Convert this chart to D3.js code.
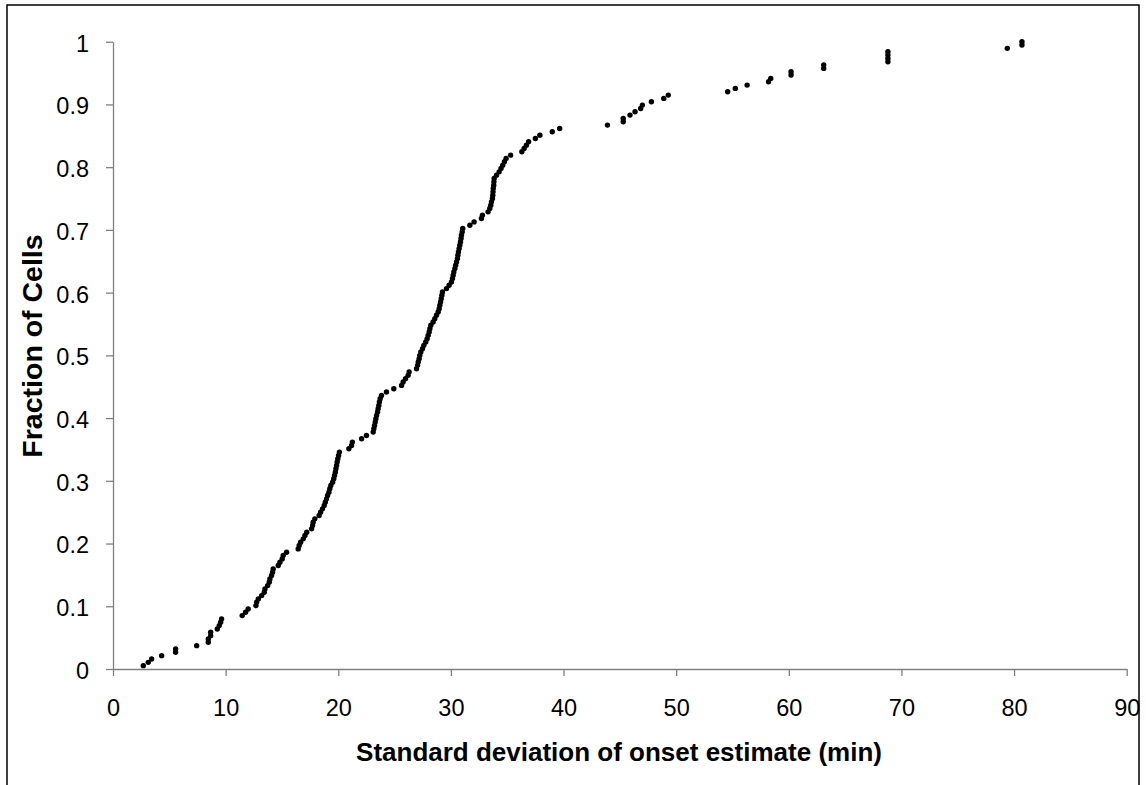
<!DOCTYPE html>
<html>
<head>
<meta charset="utf-8">
<script src="https://cdn.jsdelivr.net/npm/d3@7"></script>
<style>
    body { margin: 0; background: #fff; }
    svg { display: block; font-family: "Liberation Sans", Arial, sans-serif; }
</style>
</head>
<body>
<div id="chart"></div>
<script>
// SD of onset estimate for each cell (min), sorted
const onsetSd = [
    2.69, 3.13, 3.43, 4.32, 5.56, 5.56, 7.43, 8.46, 8.46, 8.67,
    8.67, 9.26, 9.43, 9.56, 9.64, 11.47, 11.77, 12.0, 12.69, 12.75,
    12.9, 13.2, 13.43, 13.49, 13.73, 13.87, 13.93, 14.08, 14.17, 14.22,
    14.67, 14.82, 15.02, 15.11, 15.41, 16.44, 16.53, 16.66, 16.89, 17.04,
    17.2, 17.63, 17.72, 17.77, 17.92, 18.3, 18.43, 18.6, 18.75, 18.85,
    18.96, 19.05, 19.17, 19.25, 19.34, 19.5, 19.6, 19.67, 19.74, 19.79,
    19.85, 19.9, 19.96, 20.03, 20.1, 20.94, 21.18, 21.25, 22.07, 22.5,
    23.1, 23.16, 23.22, 23.28, 23.34, 23.4, 23.49, 23.54, 23.6, 23.65,
    23.72, 23.84, 24.28, 24.93, 25.62, 25.76, 25.97, 26.2, 26.29, 26.95,
    27.04, 27.1, 27.18, 27.24, 27.33, 27.48, 27.6, 27.77, 27.89, 27.98,
    28.07, 28.13, 28.22, 28.42, 28.57, 28.72, 28.87, 28.96, 29.02, 29.08,
    29.14, 29.2, 29.25, 29.61, 29.84, 30.05, 30.14, 30.2, 30.26, 30.35,
    30.42, 30.5, 30.58, 30.62, 30.67, 30.73, 30.79, 30.85, 30.9, 30.94,
    31.0, 31.05, 31.68, 32.06, 32.71, 32.8, 33.3, 33.45, 33.54, 33.6,
    33.69, 33.72, 33.74, 33.76, 33.8, 33.82, 33.84, 34.05, 34.28, 34.45,
    34.6, 34.75, 34.9, 35.3, 36.3, 36.5, 36.7, 36.9, 37.5, 37.9,
    39.0, 39.66, 43.9, 45.3, 45.3, 45.9, 46.35, 46.85, 47.0, 47.8,
    48.9, 49.3, 54.57, 55.25, 56.3, 58.2, 58.4, 60.2, 60.2, 63.1,
    63.1, 68.8, 68.8, 68.8, 68.8, 79.4, 80.7, 80.7
];

const xTicks = [0, 10, 20, 30, 40, 50, 60, 70, 80, 90];
const yTicks = [0, 0.1, 0.2, 0.3, 0.4, 0.5, 0.6, 0.7, 0.8, 0.9, 1];
const xTitle = 'Standard deviation of onset estimate (min)';
const yTitle = 'Fraction of Cells';

const width = 1146;
const height = 785;
const plot = { left: 113, right: 1126.7, top: 41.7, bottom: 669 };

// cumulative fraction of cells for each sorted value
const points = onsetSd.map((v, i) => ({ sd: v, frac: (i + 1) / onsetSd.length }));

const svg = d3.select('#chart')
    .append('svg')
    .attr('width', width)
    .attr('height', height);

svg.append('rect')
    .attr('width', width)
    .attr('height', height)
    .attr('fill', '#fff');

// outer frame, bottom edge runs off the picture
svg.append('rect')
    .attr('x', 7)
    .attr('y', 5)
    .attr('width', 1132)
    .attr('height', 820)
    .attr('fill', 'none')
    .attr('stroke', '#000')
    .attr('stroke-width', 1.5);

const x = d3.scaleLinear()
    .domain([0, 90])
    .range([plot.left, plot.right]);

const y = d3.scaleLinear()
    .domain([0, 1])
    .range([plot.bottom, plot.top]);

const xAxis = d3.axisBottom(x)
    .tickValues(xTicks)
    .tickFormat(d => String(d))
    .tickSize(7)
    .tickSizeOuter(0)
    .tickPadding(23);

const yAxis = d3.axisLeft(y)
    .tickValues(yTicks)
    .tickFormat(d => String(d))
    .tickSize(7)
    .tickSizeOuter(0)
    .tickPadding(17);

const xAxisG = svg.append('g')
    .attr('transform', `translate(0,${plot.bottom})`)
    .call(xAxis);

const yAxisG = svg.append('g')
    .attr('transform', `translate(${plot.left},0)`)
    .call(yAxis);

[xAxisG, yAxisG].forEach(g => {
    g.selectAll('path, line')
        .attr('stroke', '#808080')
        .attr('stroke-width', 1.3);
    g.selectAll('text')
        .attr('fill', '#000')
        .style('font-size', '23.5px')
        .style('font-family', '"Liberation Sans", Arial, sans-serif');
});
yAxisG.selectAll('text').attr('dy', '0.4em');

// data points
svg.append('g')
    .selectAll('circle')
    .data(points)
    .join('circle')
    .attr('cx', d => x(d.sd))
    .attr('cy', d => y(d.frac))
    .attr('r', 2.7)
    .attr('fill', '#000');

// axis titles
svg.append('text')
    .attr('x', 619)
    .attr('y', 761)
    .attr('text-anchor', 'middle')
    .style('font-size', '26px')
    .style('font-weight', 'bold')
    .text(xTitle);

svg.append('text')
    .attr('transform', 'translate(42,346) rotate(-90)')
    .attr('text-anchor', 'middle')
    .style('font-size', '28.5px')
    .style('font-weight', 'bold')
    .text(yTitle);
</script>
</body>
</html>
